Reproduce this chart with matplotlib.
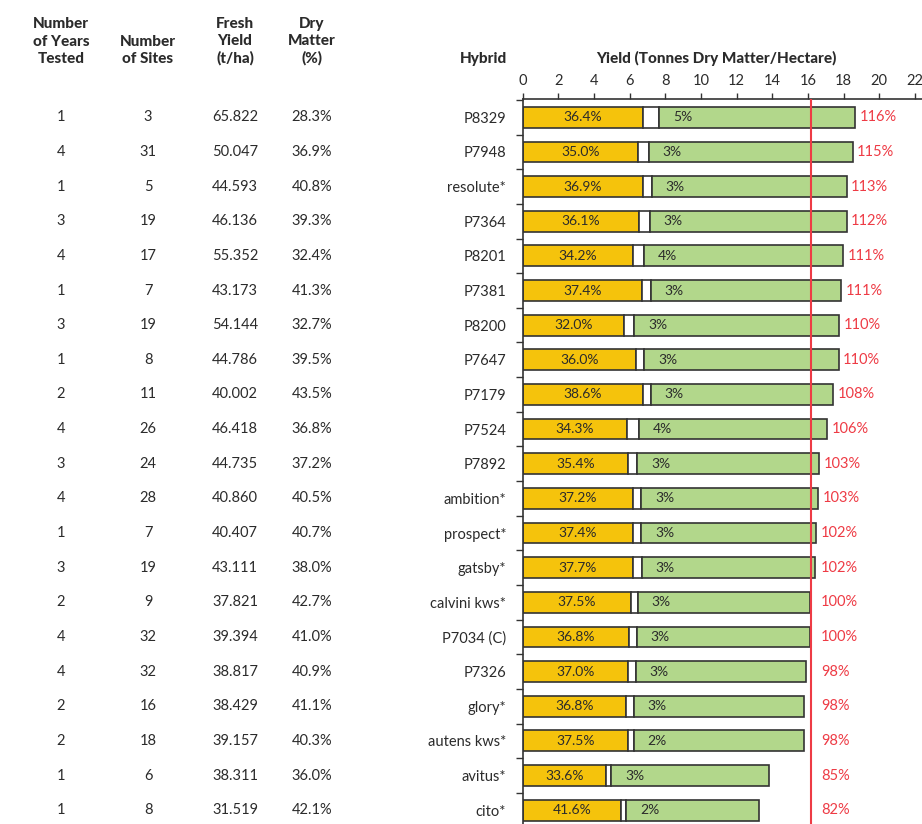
import matplotlib.pyplot as plt
import matplotlib.transforms as mtransforms
from matplotlib.ticker import FixedLocator

hybrids = ["P8329", "P7948", "resolute*", "P7364", "P8201", "P7381", "P8200",
           "P7647", "P7179", "P7524", "P7892", "ambition*", "prospect*", "gatsby*",
           "calvini kws*", "P7034 (C)", "P7326", "glory*", "autens kws*", "avitus*", "cito*"]
years = [1, 4, 1, 3, 4, 1, 3, 1, 2, 4, 3, 4, 1, 3, 2, 4, 4, 2, 2, 1, 1]
sites = [3, 31, 5, 19, 17, 7, 19, 8, 11, 26, 24, 28, 7, 19, 9, 32, 32, 16, 18, 6, 8]
fresh_yield = ["65.822", "50.047", "44.593", "46.136", "55.352", "43.173", "54.144",
               "44.786", "40.002", "46.418", "44.735", "40.860", "40.407", "43.111",
               "37.821", "39.394", "38.817", "38.429", "39.157", "38.311", "31.519"]
dry_matter = [28.3, 36.9, 40.8, 39.3, 32.4, 41.3, 32.7, 39.5, 43.5, 36.8, 37.2,
              40.5, 40.7, 38.0, 42.7, 41.0, 40.9, 41.1, 40.3, 36.0, 42.1]

# bar segments (t DM/ha)
yellow_seg = [6.76, 6.45, 6.73, 6.54, 6.17, 6.69, 5.68, 6.37, 6.73, 5.87, 5.91,
              6.17, 6.17, 6.17, 6.06, 5.95, 5.89, 5.79, 5.92, 4.66, 5.50]
white_seg = [0.90, 0.63, 0.52, 0.60, 0.63, 0.51, 0.58, 0.45, 0.47, 0.67, 0.52,
             0.48, 0.48, 0.50, 0.42, 0.44, 0.46, 0.45, 0.32, 0.31, 0.31]
green_seg = [10.99, 11.43, 10.92, 11.03, 11.16, 10.67, 11.50, 10.90, 10.22, 10.53, 10.20,
             9.93, 9.78, 9.72, 9.63, 9.72, 9.52, 9.54, 9.55, 8.83, 7.46]
# segment labels
yellow_pct = [36.4, 35.0, 36.9, 36.1, 34.2, 37.4, 32.0, 36.0, 38.6, 34.3, 35.4,
              37.2, 37.4, 37.7, 37.5, 36.8, 37.0, 36.8, 37.5, 33.6, 41.6]
green_pct = [5, 3, 3, 3, 4, 3, 3, 3, 3, 4, 3, 3, 3, 3, 3, 3, 3, 3, 2, 3, 2]
relative = [116, 115, 113, 112, 111, 111, 110, 110, 108, 106, 103, 103, 102, 102,
            100, 100, 98, 98, 98, 85, 82]
reference_yield = 16.17
x_ticks = [0, 2, 4, 6, 8, 10, 12, 14, 16, 18, 20, 22]

YELLOW = "#f5c30c"
GREEN = "#b2d78b"
RED = "#ee3b45"
EDGE = "#333333"
TXT = "#2b2b2b"

plt.rcParams['font.family'] = ['Lato', 'DejaVu Sans']


def main():
    n = len(hybrids)
    rows = list(range(n))
    fig = plt.figure(figsize=(9.22, 8.24), dpi=100)
    ax = fig.add_axes([522.7 / 922, 0.0, 1 - 522.7 / 922, 1 - 99.3 / 824])

    left1 = yellow_seg
    left2 = [a + b for a, b in zip(yellow_seg, white_seg)]
    ax.barh(rows, yellow_seg, height=0.6, color=YELLOW, edgecolor=EDGE, linewidth=1.2)
    ax.barh(rows, white_seg, left=left1, height=0.6, color="white", edgecolor=EDGE, linewidth=1.2)
    ax.barh(rows, green_seg, left=left2, height=0.6, color=GREEN, edgecolor=EDGE, linewidth=1.2)

    ax.axvline(reference_yield, color=RED, lw=1.5, zorder=3)

    for i in rows:
        total = left2[i] + green_seg[i]
        ax.text(yellow_seg[i] / 2, i, f"{yellow_pct[i]:.1f}%", ha="center", va="center",
                fontsize=10, color=TXT)
        ax.text(left2[i] + 1.3, i, f"{green_pct[i]}%", ha="center", va="center",
                fontsize=10, color=TXT)
        xr = max(total, reference_yield + 0.3) + 0.25
        ax.text(xr, i, f"{relative[i]}%", ha="left", va="center", fontsize=10.5, color=RED)

    ax.set_xlim(0, (922 - 522.7) / 17.83)
    ax.set_ylim(n - 0.6, -0.52)
    ax.xaxis.tick_top()
    ax.set_xticks(x_ticks)
    ax.tick_params(axis="x", length=4, width=1, pad=4, labelsize=10.5, colors=EDGE,
                   labelcolor=TXT)
    ax.set_yticks(rows)
    ax.set_yticklabels(hybrids)
    ax.tick_params(axis="y", which="major", length=0, pad=12, labelsize=10.5, labelcolor=TXT)
    ax.yaxis.set_minor_locator(FixedLocator([r - 0.5 for r in rows] + [n - 0.5]))
    ax.tick_params(axis="y", which="minor", length=5, width=1, color=EDGE)
    for s in ["right", "bottom"]:
        ax.spines[s].set_visible(False)
    for s in ["left", "top"]:
        ax.spines[s].set_color(EDGE)
        ax.spines[s].set_linewidth(1.2)

    # table columns to the left
    tr = mtransforms.blended_transform_factory(fig.transFigure, ax.transData)
    col_x = [61 / 922, 148 / 922, 235 / 922, 312 / 922]
    for i in rows:
        vals = [str(years[i]), str(sites[i]), fresh_yield[i], f"{dry_matter[i]:.1f}%"]
        for cx, v in zip(col_x, vals):
            fig.text(cx, i, v, transform=tr, ha="center", va="center", fontsize=10.5, color=TXT)

    headers = ["Number\nof Years\nTested", "Number\nof Sites", "Fresh\nYield\n(t/ha)",
               "Dry\nMatter\n(%)"]
    for cx, h in zip(col_x, headers):
        fig.text(cx, 1 - 66 / 824, h, ha="center", va="bottom", fontsize=11,
                 fontweight=900, color=TXT, linespacing=1.3)
    fig.text(483 / 922, 1 - 66 / 824, "Hybrid", ha="center", va="bottom", fontsize=11,
             fontweight=900, color=TXT)
    fig.text(716 / 922, 1 - 66 / 824, "Yield (Tonnes Dry Matter/Hectare)", ha="center",
             va="bottom", fontsize=11, fontweight=900, color=TXT)

    fig.savefig("out.png", dpi=100)


if __name__ == '__main__':
    main()
